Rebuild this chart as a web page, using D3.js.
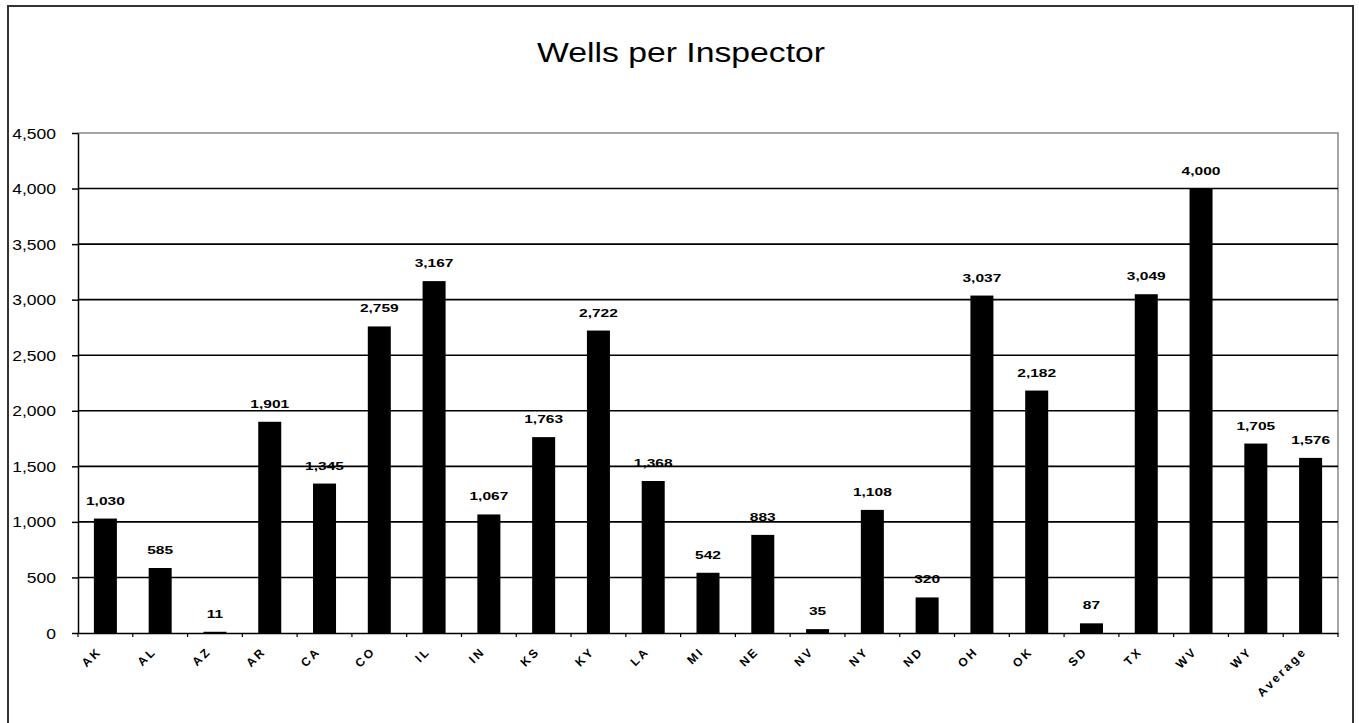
<!DOCTYPE html>
<html>
<head>
<meta charset="utf-8">
<script src="https://cdn.jsdelivr.net/npm/d3@7"></script>
<style>
  html, body { margin: 0; padding: 0; background: #fff; }
  svg { display: block; font-family: "Liberation Sans", Arial, sans-serif; }
</style>
</head>
<body>
<svg id="chart" width="1359" height="723"></svg>
<script>
// Wells per inspector, by state
const states = ["AK","AL","AZ","AR","CA","CO","IL","IN","KS","KY","LA","MI","NE","NV","NY","ND","OH","OK","SD","TX","WV","WY","Average"];
const wellsPerInspector = [1030,585,11,1901,1345,2759,3167,1067,1763,2722,1368,542,883,35,1108,320,3037,2182,87,3049,4000,1705,1576];
const yTicks = [0,500,1000,1500,2000,2500,3000,3500,4000,4500];

const svg = d3.select("#chart");
const plot = { left: 78, right: 1338, top: 133, bottom: 633 };

// outer frame
svg.append("rect")
  .attr("x", 8).attr("y", 6)
  .attr("width", 1345).attr("height", 730)
  .attr("fill", "#fff").attr("stroke", "#333").attr("stroke-width", 2);

// title
svg.append("text")
  .attr("transform", "translate(681,62) scale(1.25,1)")
  .attr("text-anchor", "middle")
  .attr("font-size", 27)
  .attr("fill", "#000")
  .text("Wells per Inspector");

const x = d3.scaleBand()
  .domain(states)
  .range([plot.left, plot.right])
  .paddingInner(0.58)
  .paddingOuter(0.29);

const y = d3.scaleLinear()
  .domain([0, 4500])
  .range([plot.bottom, plot.top]);

// plot frame (top and right edges)
svg.append("path")
  .attr("d", `M${plot.left},${plot.top}H${plot.right}V${plot.bottom}`)
  .attr("fill", "none").attr("stroke", "#888").attr("stroke-width", 1.5);

// gridlines
svg.append("g")
  .selectAll("line")
  .data(yTicks.filter(t => t > 0 && t < 4500))
  .join("line")
  .attr("x1", plot.left).attr("x2", plot.right)
  .attr("y1", d => y(d)).attr("y2", d => y(d))
  .attr("stroke", "#000").attr("stroke-width", 1.6);

// bars
svg.append("g")
  .selectAll("rect")
  .data(states)
  .join("rect")
  .attr("x", d => x(d))
  .attr("width", x.bandwidth())
  .attr("y", (d, i) => y(wellsPerInspector[i]))
  .attr("height", (d, i) => y(0) - y(wellsPerInspector[i]))
  .attr("fill", "#000");

// value labels
const fmt = d3.format(",");
svg.append("g")
  .selectAll("text")
  .data(states)
  .join("text")
  .attr("transform", (d, i) => `translate(${x(d) + x.bandwidth() / 2},${y(wellsPerInspector[i]) - 14}) scale(1.35,1)`)
  .attr("text-anchor", "middle")
  .attr("font-size", 11.5)
  .attr("font-weight", "bold")
  .attr("fill", "#000")
  .text((d, i) => fmt(wellsPerInspector[i]));

// y axis
const yAxis = svg.append("g")
  .attr("transform", `translate(${plot.left},0)`)
  .call(d3.axisLeft(y).tickValues(yTicks).tickFormat(fmt).tickSize(6).tickSizeOuter(0));
yAxis.select(".domain").attr("stroke", "#000").attr("stroke-width", 1.5);
yAxis.selectAll(".tick line").attr("stroke", "#000").attr("stroke-width", 1.5);
yAxis.selectAll(".tick text")
  .attr("x", null).attr("dy", null)
  .attr("font-family", "\"Liberation Sans\", Arial, sans-serif")
  .attr("font-size", 14)
  .attr("fill", "#000")
  .attr("text-anchor", "end")
  .attr("transform", "translate(-22,5) scale(1.25,1)");

// x axis
const xAxis = svg.append("g")
  .attr("transform", `translate(0,${plot.bottom})`)
  .call(d3.axisBottom(x).tickSize(0).tickSizeOuter(0));
xAxis.select(".domain").attr("stroke", "#000").attr("stroke-width", 1.5);
xAxis.selectAll(".tick text")
  .attr("y", null).attr("dy", null)
  .attr("font-family", "\"Liberation Sans\", Arial, sans-serif")
  .attr("font-size", 12)
  .attr("font-weight", "bold")
  .attr("letter-spacing", 2.5)
  .attr("fill", "#000")
  .attr("text-anchor", "end")
  .attr("transform", "translate(-3,19) rotate(-45)");

// category boundary ticks
const step = x.step();
const bounds = states.map(d => x(d) - (step - x.bandwidth()) / 2).concat([plot.right]);
svg.append("g")
  .selectAll("line")
  .data(bounds)
  .join("line")
  .attr("x1", d => d).attr("x2", d => d)
  .attr("y1", plot.bottom).attr("y2", plot.bottom + 4)
  .attr("stroke", "#000").attr("stroke-width", 1.2);
</script>
</body>
</html>
